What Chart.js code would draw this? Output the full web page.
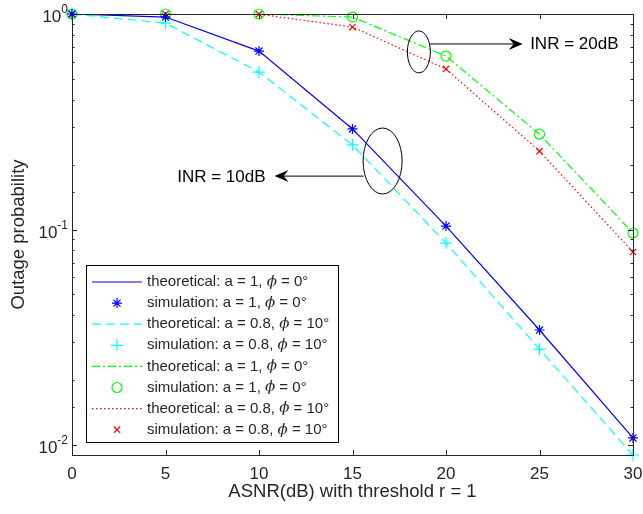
<!DOCTYPE html>
<html>
<head>
<meta charset="utf-8">
<script src="https://cdn.jsdelivr.net/npm/chart.js@4.4.1/dist/chart.umd.min.js"></script>
<style>
  html, body { margin: 0; padding: 0; background: #fff; }
  #wrap { width: 643px; height: 514px; }
</style>
</head>
<body>
<div id="wrap"><canvas id="c" width="643" height="514"></canvas></div>
<script>
// x values (dB)
const asnr = [0, 5, 10, 15, 20, 25, 30];

// INR = 10dB
const theoA1Inr10 = [1, 0.968, 0.673, 0.293, 0.1038, 0.0342, 0.0108];
const simA1Inr10 = [1, 0.968, 0.673, 0.293, 0.1038, 0.0342, 0.0108];
const theoA08Inr10 = [1, 0.908, 0.538, 0.247, 0.0866, 0.0279, 0.009];
const simA08Inr10 = [1, 0.908, 0.538, 0.247, 0.0866, 0.0279, 0.009];

// INR = 20dB
const theoA1Inr20 = [1, 1, 1, 0.968, 0.638, 0.277, 0.0964];
const simA1Inr20 = [1, 1, 1, 0.968, 0.638, 0.277, 0.0964];
const theoA08Inr20 = [1, 1, 0.998, 0.87, 0.556, 0.231, 0.0787];
const simA08Inr20 = [1, 1, 0.998, 0.87, 0.556, 0.231, 0.0787];

const xTicks = [0, 5, 10, 15, 20, 25, 30];
const yTicks = [1, 0.1, 0.01];
const yExps = ['0', '-1', '-2'];

const legendLabels = [
  ['theoretical: a = 1, ', ' = 0°'],
  ['simulation: a = 1, ', ' = 0°'],
  ['theoretical: a = 0.8, ', ' = 10°'],
  ['simulation: a = 0.8, ', ' = 10°'],
  ['theoretical: a = 1, ', ' = 0°'],
  ['simulation: a = 1, ', ' = 0°'],
  ['theoretical: a = 0.8, ', ' = 10°'],
  ['simulation: a = 0.8, ', ' = 10°'],
];

const FONT = '"Liberation Sans", Arial, Helvetica, sans-serif';
const AXIS = '#262626';

const pts = (ys) => asnr.map((x, i) => ({ x, y: ys[i] }));

function lineSet(ys, color, dash) {
  return {
    type: 'line', data: pts(ys), borderColor: color, borderWidth: 1.2,
    borderDash: dash, pointRadius: 0, fill: false, tension: 0,
  };
}
function markSet(ys, color, style, r) {
  return {
    type: 'scatter', data: pts(ys), showLine: false, clip: false,
    pointStyle: style, pointRadius: r, pointBorderColor: color,
    pointBackgroundColor: 'rgba(0,0,0,0)', pointBorderWidth: 1.2,
  };
}

const datasets = [
  lineSet(theoA1Inr10, '#0000ff', []),
  markSet(simA1Inr10, '#0000ff', 'star', 5),
  lineSet(theoA08Inr10, '#00ffff', [9, 5]),
  markSet(simA08Inr10, '#00ffff', 'cross', 6),
  lineSet(theoA1Inr20, '#00ff00', [8, 3, 2, 3]),
  markSet(simA1Inr20, '#00ff00', 'circle', 5),
  lineSet(theoA08Inr20, '#ff0000', [1.5, 2.5]),
  markSet(simA08Inr20, '#ff0000', 'crossRot', 4.5),
];

function drawArrow(ctx, x0, y0, x1, y1) {
  const dir = Math.sign(x1 - x0);
  ctx.strokeStyle = '#000';
  ctx.lineWidth = 1;
  ctx.beginPath();
  ctx.moveTo(x0, y0);
  ctx.lineTo(x1 - dir * 8, y1);
  ctx.stroke();
  ctx.fillStyle = '#000';
  ctx.beginPath();
  ctx.moveTo(x1, y1);
  ctx.lineTo(x1 - dir * 14, y1 - 6);
  ctx.lineTo(x1 - dir * 9, y1);
  ctx.lineTo(x1 - dir * 14, y1 + 6);
  ctx.closePath();
  ctx.fill();
}

const frame = {
  id: 'frame',
  afterDatasetsDraw(chart) {
    const { ctx, chartArea: a, scales: { x, y } } = chart;
    ctx.save();

    // box
    ctx.strokeStyle = AXIS;
    ctx.lineWidth = 1;
    ctx.strokeRect(a.left + 0.5, a.top + 0.5, a.right - a.left, a.bottom - a.top);

    // x ticks (inward, top and bottom)
    ctx.beginPath();
    xTicks.forEach((v) => {
      const px = Math.round(x.getPixelForValue(v)) + 0.5;
      ctx.moveTo(px, a.bottom); ctx.lineTo(px, a.bottom - 5);
      ctx.moveTo(px, a.top); ctx.lineTo(px, a.top + 5);
    });
    // y ticks, major and minor from the log scale
    y.ticks.forEach((t) => {
      if (t.value < 0.0099 || t.value > 1.001) return;
      const major = yTicks.some((m) => Math.abs(m - t.value) / m < 1e-6);
      const len = major ? 5 : 2.5;
      const py = Math.round(y.getPixelForValue(t.value)) + 0.5;
      ctx.moveTo(a.left, py); ctx.lineTo(a.left + len, py);
      ctx.moveTo(a.right, py); ctx.lineTo(a.right - len, py);
    });
    ctx.stroke();

    // x tick labels
    ctx.fillStyle = AXIS;
    ctx.font = '17px ' + FONT;
    ctx.textAlign = 'center';
    ctx.textBaseline = 'middle';
    xTicks.forEach((v) => ctx.fillText(String(v), x.getPixelForValue(v), a.bottom + 19));

    // y tick labels 10^n
    yTicks.forEach((v, i) => {
      const py = y.getPixelForValue(v);
      ctx.font = '12px ' + FONT;
      ctx.textAlign = 'right';
      ctx.textBaseline = 'alphabetic';
      const ew = ctx.measureText(yExps[i]).width;
      const right = a.left - 4;
      ctx.fillText(yExps[i], right, py - 1);
      ctx.font = '17px ' + FONT;
      ctx.fillText('10', right - ew, py + 8);
    });

    // axis titles
    ctx.font = '18.5px ' + FONT;
    ctx.textAlign = 'center';
    ctx.textBaseline = 'middle';
    ctx.fillText('ASNR(dB) with threshold r = 1', (a.left + a.right) / 2, 492);
    ctx.save();
    ctx.translate(19, (a.top + a.bottom) / 2);
    ctx.rotate(-Math.PI / 2);
    ctx.fillText('Outage probability', 0, 0);
    ctx.restore();

    // annotations: ellipses + arrows
    ctx.strokeStyle = '#000';
    ctx.lineWidth = 1;
    const e20x = x.getPixelForValue(18.55), e20y = y.getPixelForValue(0.667);
    ctx.beginPath(); ctx.ellipse(e20x, e20y, 11.5, 21, 0, 0, Math.PI * 2); ctx.stroke();
    const a20y = y.getPixelForValue(0.726);
    drawArrow(ctx, e20x + 11.3, a20y, x.getPixelForValue(24.1), a20y);
    ctx.fillStyle = '#000';
    ctx.font = '17px ' + FONT;
    ctx.textAlign = 'left';
    ctx.textBaseline = 'middle';
    ctx.fillText('INR = 20dB', x.getPixelForValue(24.5), a20y);

    const e10x = x.getPixelForValue(16.61), e10y = y.getPixelForValue(0.208);
    ctx.beginPath(); ctx.ellipse(e10x, e10y, 19.5, 33, 0, 0, Math.PI * 2); ctx.stroke();
    const a10y = y.getPixelForValue(0.177);
    drawArrow(ctx, e10x - 19, a10y, x.getPixelForValue(10.83), a10y);
    ctx.textAlign = 'right';
    ctx.fillText('INR = 10dB', x.getPixelForValue(10.35), a10y + 1);

    // legend
    const L = 86, T = 265, R = 338, B = 442;
    ctx.fillStyle = '#fff';
    ctx.fillRect(L, T, R - L, B - T);
    ctx.strokeStyle = '#000';
    ctx.lineWidth = 1;
    ctx.strokeRect(L + 0.5, T + 0.5, R - L, B - T);
    legendLabels.forEach((lab, i) => {
      const ds = chart.data.datasets[i];
      const ry = T + 17 + i * 21.1;
      if (ds.type === 'line') {
        ctx.save();
        ctx.strokeStyle = ds.borderColor;
        ctx.lineWidth = ds.borderWidth;
        ctx.setLineDash(ds.borderDash);
        ctx.beginPath(); ctx.moveTo(92, ry); ctx.lineTo(142, ry); ctx.stroke();
        ctx.restore();
      } else {
        ctx.save();
        ctx.fillStyle = 'rgba(0,0,0,0)';
        ctx.strokeStyle = ds.pointBorderColor;
        ctx.lineWidth = 1.2;
        Chart.helpers.drawPoint(ctx, {
          pointStyle: ds.pointStyle, radius: ds.pointRadius, borderWidth: 1.2,
        }, 117, ry);
        ctx.restore();
      }
      ctx.fillStyle = AXIS;
      ctx.textAlign = 'left';
      ctx.textBaseline = 'middle';
      let tx = 147;
      ctx.font = '15px ' + FONT;
      ctx.fillText(lab[0], tx, ry);
      tx += ctx.measureText(lab[0]).width;
      ctx.font = 'italic 15px "DejaVu Serif", serif';
      ctx.fillText('ϕ', tx, ry);
      tx += ctx.measureText('ϕ').width;
      ctx.font = '15px ' + FONT;
      ctx.fillText(lab[1], tx, ry);
    });

    ctx.restore();
  },
};

new Chart(document.getElementById('c'), {
  data: { datasets },
  options: {
    responsive: false,
    animation: false,
    layout: { padding: { left: 0, right: 10, top: 14, bottom: 0 } },
    plugins: { legend: { display: false }, tooltip: { enabled: false } },
    scales: {
      x: {
        type: 'linear', min: 0, max: 30,
        ticks: { display: false, stepSize: 5 },
        grid: { display: false }, border: { display: false },
        afterFit: (s) => { s.height = 59; },
      },
      y: {
        type: 'logarithmic', min: 0.009, max: 1,
        ticks: { display: false },
        grid: { display: false }, border: { display: false },
        afterFit: (s) => { s.width = 72; },
      },
    },
  },
  plugins: [frame],
});
</script>
</body>
</html>
